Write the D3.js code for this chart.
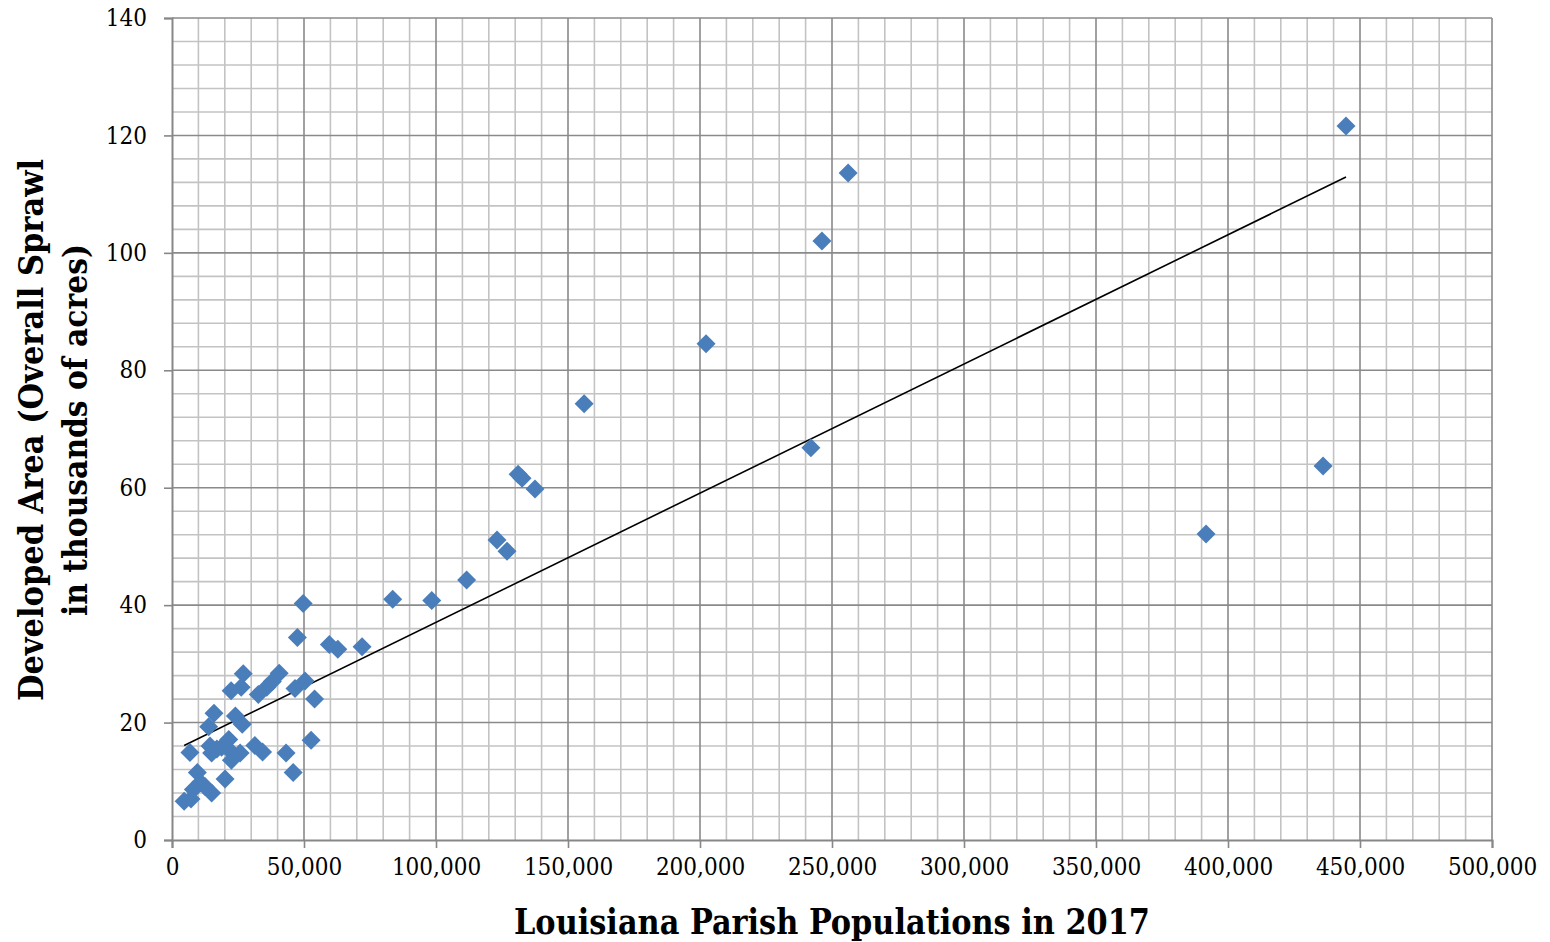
<!DOCTYPE html>
<html>
<head>
<meta charset="utf-8">
<script src="https://cdn.jsdelivr.net/npm/d3@7"></script>
<style>
  body { margin: 0; background: #fff; }
  svg text { font-family: "DejaVu Serif Condensed", "DejaVu Serif", serif; font-stretch: condensed; }
</style>
</head>
<body>
<script>
// parish population (thousands) and developed area (thousand acres)
var population = [
  444.7, 256.1, 246.2, 202.3, 156.1, 242.0, 436.0, 391.7, 131.1, 132.6,
  137.5, 123.1, 126.9, 111.6, 83.6, 98.4, 49.7, 47.5, 59.6, 62.8,
  72.0, 50.4, 54.0, 46.6, 27.0, 22.4, 26.2, 32.7, 35.9, 38.0,
  40.6, 15.9, 24.0, 26.6, 13.9, 52.7, 21.5, 6.8, 14.4, 18.8,
  15.0, 22.0, 25.8, 31.4, 34.3, 43.2, 45.9, 9.6, 20.1, 10.8,
  12.5, 8.1, 15.0, 4.6, 7.2, 17.0, 22.5
];
var developed = [
  121.6, 113.6, 102.0, 84.5, 74.3, 66.8, 63.7, 52.1, 62.3, 61.6,
  59.8, 51.1, 49.2, 44.3, 41.0, 40.8, 40.3, 34.5, 33.3, 32.5,
  32.9, 27.1, 24.0, 25.8, 28.3, 25.4, 26.0, 24.8, 26.0, 27.0,
  28.4, 21.6, 21.1, 19.7, 19.3, 17.0, 17.1, 14.9, 16.0, 15.8,
  14.8, 15.2, 14.8, 16.1, 15.0, 14.8, 11.5, 11.5, 10.4, 9.8,
  9.1, 8.6, 8.0, 6.6, 7.0, 15.5, 13.6
];
// linear trend (area = slope * population + intercept), population in thousands
var trendSlope = 0.22;
var trendIntercept = 15.08;

var xTicks = [0, 50000, 100000, 150000, 200000, 250000, 300000, 350000, 400000, 450000, 500000];
var yTicks = [0, 20, 40, 60, 80, 100, 120, 140];
var xTitle = "Louisiana Parish Populations in 2017";
var yTitle = ["Developed Area (Overall Sprawl", "in thousands of acres)"];

var points = population.map(function (p, i) { return { x: p * 1000, y: developed[i] }; });

var width = 1550, height = 942;
var plotLeft = 172, plotRight = 1492, plotTop = 18, plotBottom = 840;

var svg = d3.select("body").append("svg")
  .attr("width", width)
  .attr("height", height);

var x = d3.scaleLinear().domain([0, 500000]).range([plotLeft, plotRight]);
var y = d3.scaleLinear().domain([0, 140]).range([plotBottom, plotTop]);

// minor grid
var grid = svg.append("g");
grid.selectAll("line.vminor")
  .data(d3.range(0, 500001, 10000).filter(function (v) { return v % 50000 !== 0; }))
  .enter().append("line")
  .attr("x1", x).attr("x2", x).attr("y1", plotTop).attr("y2", plotBottom)
  .attr("stroke", "#c3c3c3").attr("stroke-width", 1.6);
grid.selectAll("line.hminor")
  .data(d3.range(0, 141, 4).filter(function (v) { return v % 20 !== 0; }))
  .enter().append("line")
  .attr("y1", y).attr("y2", y).attr("x1", plotLeft).attr("x2", plotRight)
  .attr("stroke", "#c3c3c3").attr("stroke-width", 1.6);
// major grid
grid.selectAll("line.vmajor")
  .data(xTicks.slice(1))
  .enter().append("line")
  .attr("x1", x).attr("x2", x).attr("y1", plotTop).attr("y2", plotBottom)
  .attr("stroke", "#8a8a8a").attr("stroke-width", 1.6);
grid.selectAll("line.hmajor")
  .data(yTicks.slice(1))
  .enter().append("line")
  .attr("y1", y).attr("y2", y).attr("x1", plotLeft).attr("x2", plotRight)
  .attr("stroke", "#8a8a8a").attr("stroke-width", 1.6);

// axes
var xAxis = svg.append("g")
  .attr("transform", "translate(0," + plotBottom + ")")
  .call(d3.axisBottom(x).tickValues(xTicks).tickSize(8).tickPadding(10)
    .tickFormat(d3.format(",")));
var yAxis = svg.append("g")
  .attr("transform", "translate(" + plotLeft + ",0)")
  .call(d3.axisLeft(y).tickValues(yTicks).tickSize(8).tickPadding(17));

[xAxis, yAxis].forEach(function (ax) {
  ax.select(".domain").attr("stroke", "#878787").attr("stroke-width", 2);
  ax.selectAll(".tick line").attr("stroke", "#878787").attr("stroke-width", 1.6);
  ax.selectAll(".tick text")
    .attr("fill", "#000")
    .style("font-size", "24px")
    .style("font-family", "'DejaVu Serif Condensed', 'DejaVu Serif', serif");
});
xAxis.selectAll(".tick text").attr("dy", "0.72em");

// trend line
var xr = d3.extent(population);
svg.append("line")
  .attr("x1", x(xr[0] * 1000)).attr("y1", y(trendSlope * xr[0] + trendIntercept))
  .attr("x2", x(xr[1] * 1000)).attr("y2", y(trendSlope * xr[1] + trendIntercept))
  .attr("stroke", "#000").attr("stroke-width", 1.6);

// diamond markers
svg.append("g").selectAll("path")
  .data(points)
  .enter().append("path")
  .attr("d", "M0,-9.5L9.5,0L0,9.5L-9.5,0Z")
  .attr("transform", function (d) { return "translate(" + x(d.x) + "," + y(d.y) + ")"; })
  .attr("fill", "#4a7ebb");

// titles
svg.append("text")
  .attr("x", (plotLeft + plotRight) / 2)
  .attr("y", 934)
  .attr("text-anchor", "middle")
  .attr("textLength", 636)
  .attr("lengthAdjust", "spacingAndGlyphs")
  .style("font-size", "36px")
  .style("font-weight", "bold")
  .text(xTitle);

var yt = svg.append("g").attr("transform", "translate(0,430) rotate(-90)");
yt.append("text")
  .attr("x", 0).attr("y", 43)
  .attr("text-anchor", "middle")
  .attr("textLength", 542)
  .attr("lengthAdjust", "spacingAndGlyphs")
  .style("font-size", "33px")
  .style("font-weight", "bold")
  .text(yTitle[0]);
yt.append("text")
  .attr("x", 0).attr("y", 87)
  .attr("text-anchor", "middle")
  .attr("textLength", 372)
  .attr("lengthAdjust", "spacingAndGlyphs")
  .style("font-size", "33px")
  .style("font-weight", "bold")
  .text(yTitle[1]);
</script>
</body>
</html>
